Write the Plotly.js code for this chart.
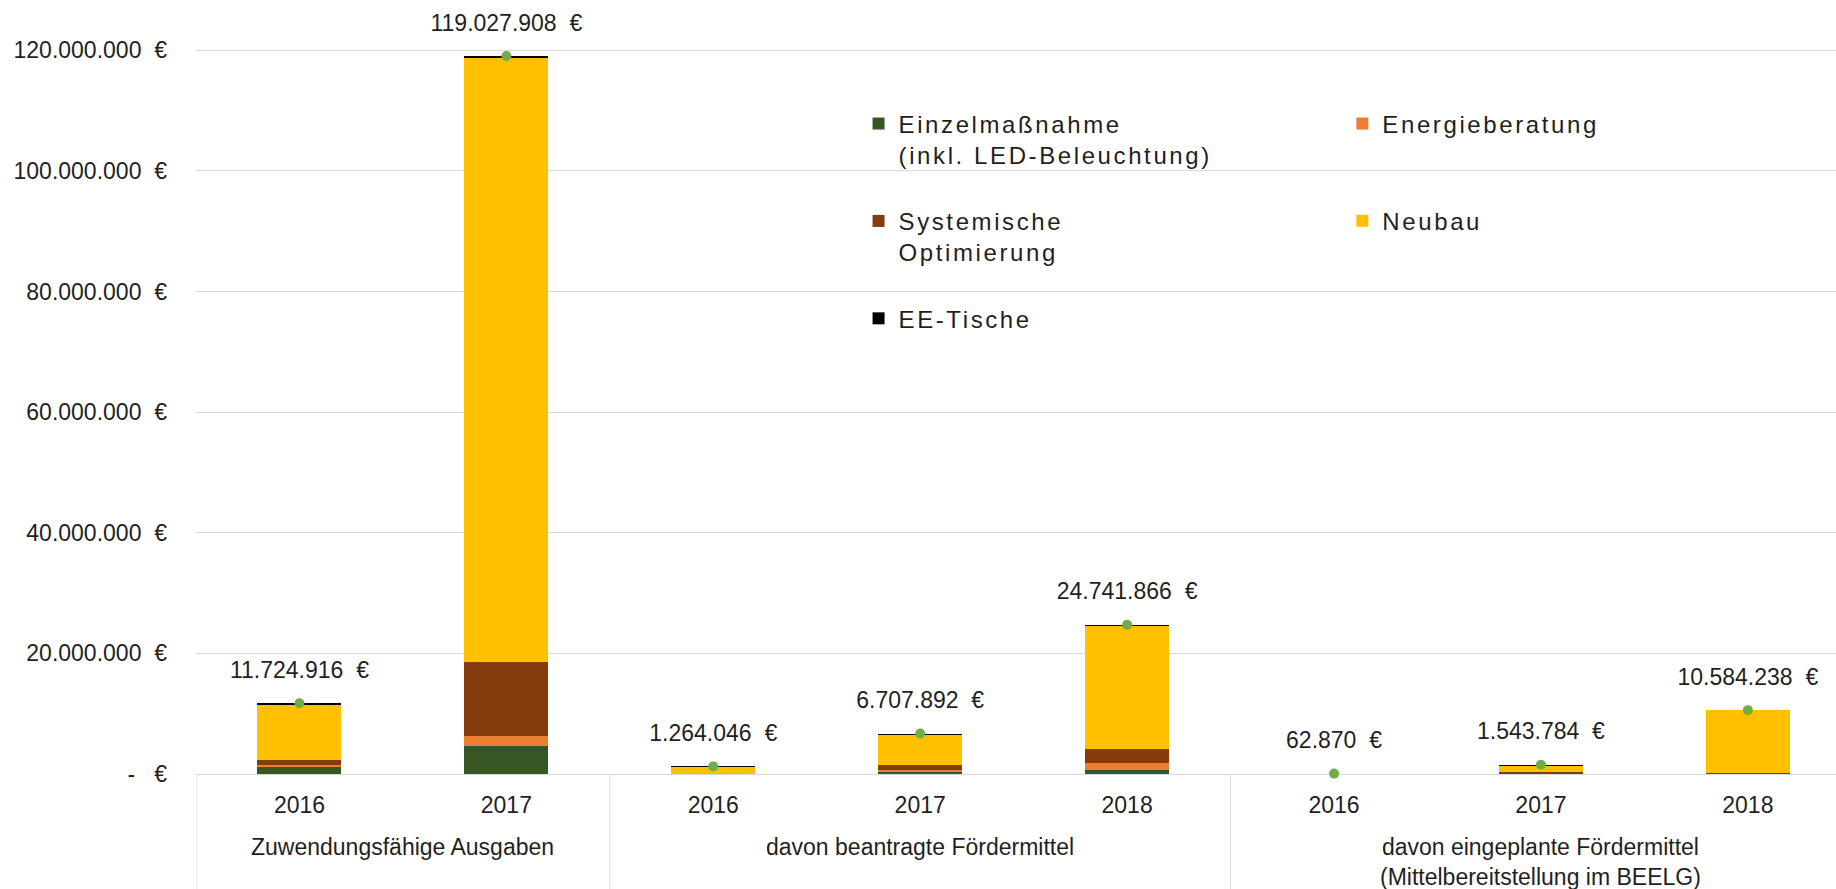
<!DOCTYPE html>
<html><head><meta charset="utf-8">
<script src="https://cdn.plot.ly/plotly-3.0.1.min.js"></script>
<style>
html,body{margin:0;padding:0;background:#fff;}
#chart{width:1836px;height:889px;}
.legendtext, g.legend text, g.legend2 text{letter-spacing:2.6px !important;}
g.legend .scrollbox, g.legend2 .scrollbox{clip-path:none !important;}
</style>
</head><body><div id="chart"></div>
<script>
// ---- data ----
const groupLabels = [
  'Zuwendungsfähige Ausgaben', 'Zuwendungsfähige Ausgaben',
  'davon beantragte Fördermittel', 'davon beantragte Fördermittel', 'davon beantragte Fördermittel',
  'davon eingeplante Fördermittel<br>(Mittelbereitstellung im BEELG)',
  'davon eingeplante Fördermittel<br>(Mittelbereitstellung im BEELG)',
  'davon eingeplante Fördermittel<br>(Mittelbereitstellung im BEELG)'
];
const years = ['2016', '2017', '2016', '2017', '2018', '2016', '2017', '2018'];

const einzelmassnahme = [1160000, 4700000, 0, 250000, 720000, 0, 0, 0];
const energieberatung = [330000, 1600000, 0, 450000, 1100000, 62870, 0, 0];
const systemisch      = [830000, 12300000, 0, 850000, 2300000, 0, 250000, 200000];
const neubau          = [9180000, 100130000, 1100000, 4980000, 20400000, 0, 1100000, 10384238];
const eeTische        = [224916, 297908, 164046, 177892, 221866, 0, 193784, 0];
const totals          = [11724916, 119027908, 1264046, 6707892, 24741866, 62870, 1543784, 10584238];

const yTickVals   = [0, 20000000, 40000000, 60000000, 80000000, 100000000, 120000000];
const yTickLabels = ['-\u00a0\u00a0\u00a0€', '20.000.000\u00a0\u00a0€', '40.000.000\u00a0\u00a0€', '60.000.000\u00a0\u00a0€',
                     '80.000.000\u00a0\u00a0€', '100.000.000\u00a0\u00a0€', '120.000.000\u00a0\u00a0€'];

// ---- chart ----
const xIdx = years.map((_, i) => i);
const FONT = 'Liberation Sans, Arial, Helvetica, sans-serif';
const TXT = '#1f1f1f';
const GRID = '#d9d9d9';

function barTrace(name, vals, color, legend, group) {
  return {
    type: 'bar', name: name, x: xIdx, y: vals,
    marker: {color: color, line: {width: 0}},
    legend: legend, legendgroup: group, hoverinfo: 'skip'
  };
}

const traces = [
  barTrace('Einzelmaßnahme<br>(inkl. LED-Beleuchtung)', einzelmassnahme, '#375623', 'legend', 'a'),
  barTrace('Energieberatung', energieberatung, '#ed7d31', 'legend2', 'b'),
  barTrace('Systemische<br>Optimierung', systemisch, '#843c0c', 'legend', 'c'),
  barTrace('Neubau', neubau, '#ffc000', 'legend2', 'd'),
  barTrace('EE-Tische', eeTische, '#000000', 'legend', 'e'),
  {
    type: 'scatter', mode: 'markers', x: xIdx, y: totals, name: 'Gesamt',
    marker: {color: '#70ad47', size: 10}, showlegend: false, hoverinfo: 'skip', cliponaxis: false
  },
  {
    type: 'scatter', mode: 'markers+text', x: xIdx, y: totals, name: 'Gesamt-Label',
    marker: {color: 'rgba(0,0,0,0)', size: 30}, texttemplate: '%{y:,.0f}\u00a0\u00a0€',
    textposition: 'top center', textfont: {size: 23, color: TXT, family: FONT},
    showlegend: false, hoverinfo: 'skip', cliponaxis: false
  }
];

// group labels (second row of category axis) and dividers, derived from groupLabels
const annotations = [];
const shapes = [];
let start = 0;
for (let i = 1; i <= groupLabels.length; i++) {
  if (i === groupLabels.length || groupLabels[i] !== groupLabels[start]) {
    annotations.push({
      x: (start + i - 1) / 2, xref: 'x', y: 0, yref: 'paper',
      text: groupLabels[start], showarrow: false, xanchor: 'center', yanchor: 'top',
      yshift: -58, align: 'center', font: {size: 23, color: TXT, family: FONT}
    });
    shapes.push({
      type: 'line', xref: 'x', yref: 'paper', x0: start - 0.5, x1: start - 0.5, y0: 0, y1: -0.17,
      line: {color: GRID, width: 1}, layer: 'above'
    });
    start = i;
  }
}

const layout = {
  width: 1836, height: 889,
  margin: {l: 196, r: 0, t: 20, b: 115, pad: 0},
  paper_bgcolor: '#ffffff', plot_bgcolor: '#ffffff',
  separators: ',.',
  font: {family: FONT, size: 23, color: TXT},
  barmode: 'stack', bargap: 0.594,
  xaxis: {
    type: 'linear', range: [-0.5, 7.426], tickmode: 'array', tickvals: xIdx, ticktext: years,
    showgrid: false, ticks: '', showline: false, zeroline: false, ticklabelstandoff: 15,
    tickfont: {size: 23, color: TXT, family: FONT}, fixedrange: true
  },
  yaxis: {
    range: [0, 125000000], tickmode: 'array', tickvals: yTickVals, ticktext: yTickLabels,
    showgrid: true, gridcolor: GRID, gridwidth: 1,
    zeroline: true, zerolinecolor: GRID, zerolinewidth: 1,
    ticks: '', ticklabelstandoff: 28, showline: false,
    tickfont: {size: 23, color: TXT, family: FONT}, fixedrange: true
  },
  annotations: annotations,
  shapes: shapes,
  showlegend: true,
  legend: {
    x: 0.404, y: 0.892, xanchor: 'left', yanchor: 'top', orientation: 'v',
    traceorder: 'grouped', tracegroupgap: 32, valign: 'top', itemwidth: 30,
    bgcolor: 'rgba(0,0,0,0)', borderwidth: 0, font: {size: 24, color: TXT, family: FONT}
  },
  legend2: {
    x: 0.699, y: 0.892, xanchor: 'left', yanchor: 'top', orientation: 'v',
    traceorder: 'grouped', tracegroupgap: 63, valign: 'top', itemwidth: 30,
    bgcolor: 'rgba(0,0,0,0)', borderwidth: 0, font: {size: 24, color: TXT, family: FONT}
  }
};

Plotly.newPlot('chart', traces, layout, {displayModeBar: false, staticPlot: true});
</script>
</body></html>
